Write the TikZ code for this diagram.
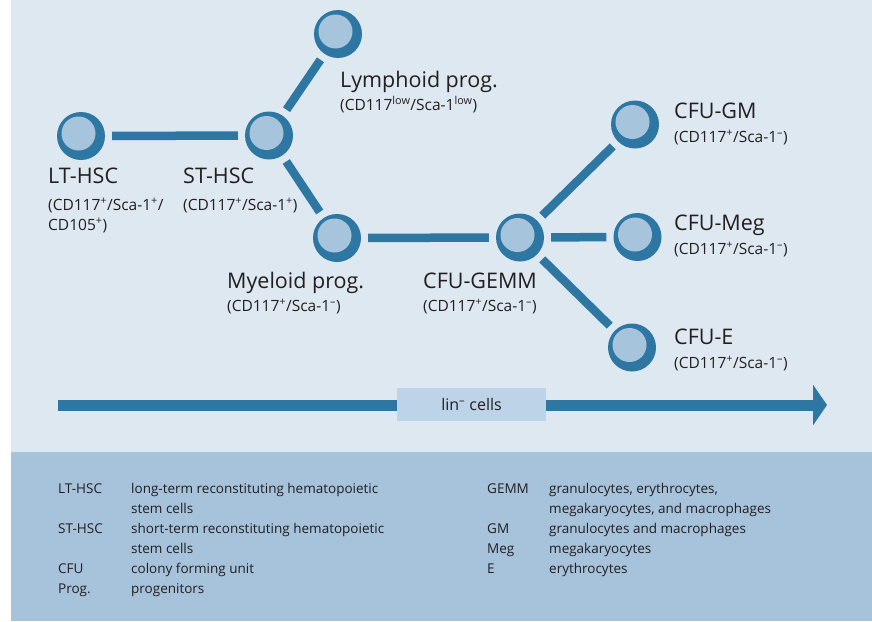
\documentclass[tikz,border=0pt]{standalone}
\usepackage{fontspec}
\setmainfont{Open Sans}
\usetikzlibrary{arrows.meta}

\definecolor{ringblue}{HTML}{2E77A3}
\definecolor{cellblue}{HTML}{A6C4DB}
\definecolor{paleblue}{HTML}{DDE8F1}
\definecolor{legendblue}{HTML}{A6C3DB}
\definecolor{boxblue}{HTML}{BDD3E7}
\definecolor{inkgrey}{HTML}{231F20}

\tikzset{
  cell/.style={circle, fill=ringblue, minimum size=48pt, inner sep=0pt,
    path picture={\fill[cellblue] ([xshift=-2.5pt,yshift=2.5pt]path picture bounding box.center) circle (17pt);}},
  link/.style={draw=ringblue, line width=8.5pt, shorten >=7pt, shorten <=7pt},
  cellname/.style={anchor=base west, inner sep=0pt, text=inkgrey, font=\fontsize{21.5}{24}\selectfont},
  cellmark/.style={anchor=base west, inner sep=0pt, text=inkgrey, font=\fontsize{15.5}{19}\selectfont},
  legendtext/.style={anchor=base west, inner sep=0pt, text=inkgrey, font=\fontsize{13.5}{16}\selectfont},
}
\newcommand{\pos}{\textsuperscript{+}}
\newcommand{\negt}{\textsuperscript{–}}

\begin{document}
\begin{tikzpicture}[x=1pt,y=-1pt]
  \useasboundingbox (0,0) rectangle (872,621);
  \fill[white] (0,0) rectangle (872,621);
  \fill[paleblue] (11,0) rectangle (872,452);
  \fill[legendblue] (11,452) rectangle (872,621);

  % cells
  \node[cell] (lt)   at ( 81, 136) {};
  \node[cell] (st)   at (269, 135.5) {};
  \node[cell] (lym)  at (338,  34) {};
  \node[cell] (mye)  at (337, 238) {};
  \node[cell] (gemm) at (520, 237.5) {};
  \node[cell] (gm)   at (635, 124.5) {};
  \node[cell] (meg)  at (637.5, 237) {};
  \node[cell] (ery)  at (632, 347.5) {};

  \draw[link] (lt) -- (st);
  \draw[link] (st) -- (lym);
  \draw[link] (st) -- (mye);
  \draw[link] (mye) -- (gemm);
  \draw[link] (gemm) -- (gm);
  \draw[link] (gemm) -- (meg);
  \draw[link] (gemm) -- (ery);

  % labels
  \node[cellname] (ltname)   at ( 48, 183) {LT-HSC};
  \node[cellmark] (ltmark)   at ( 48, 210) {(CD117\pos/Sca-1\pos/};
  \node[cellmark] (ltmarkb)  at ( 48, 230) {CD105\pos)};
  \node[cellname] (stname)   at (183, 183) {ST-HSC};
  \node[cellmark] (stmark)   at (183, 210) {(CD117\pos/Sca-1\pos)};
  \node[cellname] (lymname)  at (340,  87) {Lymphoid prog.};
  \node[cellmark] (lymmark)  at (340, 110) {(CD117\textsuperscript{low}/Sca-1\textsuperscript{low})};
  \node[cellname] (myename)  at (227, 288) {Myeloid prog.};
  \node[cellmark] (myemark)  at (227, 311) {(CD117\pos/Sca-1\negt)};
  \node[cellname] (gemmname) at (423, 288) {CFU-GEMM};
  \node[cellmark] (gemmmark) at (423, 311) {(CD117\pos/Sca-1\negt)};
  \node[cellname] (gmname)   at (674, 118) {CFU-GM};
  \node[cellmark] (gmmark)   at (674, 142) {(CD117\pos/Sca-1\negt)};
  \node[cellname] (megname)  at (674, 230) {CFU-Meg};
  \node[cellmark] (megmark)  at (674, 254) {(CD117\pos/Sca-1\negt)};
  \node[cellname] (eryname)  at (674, 344) {CFU-E};
  \node[cellmark] (erymark)  at (674, 368) {(CD117\pos/Sca-1\negt)};

  % lineage arrow
  \coordinate (arrowstart) at (58, 405);
  \coordinate (arrowend) at (827, 405);
  \draw[ringblue, line width=11pt, -{Triangle[length=14pt,width=40pt]}] (arrowstart) -- (arrowend);
  \node[fill=boxblue, minimum width=149pt, minimum height=33pt, inner sep=0pt,
    text=inkgrey, font=\fontsize{16}{19}\selectfont] (lin) at (471.5, 404.5) {lin\negt{} cells};

  % legend
  \foreach \row/\y/\abbrev/\desc in {1/493/LT-HSC/long-term reconstituting hematopoietic,
      2/513//stem cells, 3/533/ST-HSC/short-term reconstituting hematopoietic,
      4/553//stem cells, 5/573/CFU/colony forming unit, 6/593/Prog./progenitors} {
    \node[legendtext] (labbr\row) at (58, \y) {\abbrev};
    \node[legendtext] (ldesc\row) at (131, \y) {\desc};
  }
  \foreach \row/\y/\abbrev/\desc in {1/493/GEMM/{granulocytes, erythrocytes,},
      2/513//{megakaryocytes, and macrophages}, 3/533/GM/granulocytes and macrophages,
      4/553/Meg/megakaryocytes, 5/573/E/erythrocytes} {
    \node[legendtext] (rabbr\row) at (487, \y) {\abbrev};
    \node[legendtext] (rdesc\row) at (549, \y) {\desc};
  }
\end{tikzpicture}
\end{document}
